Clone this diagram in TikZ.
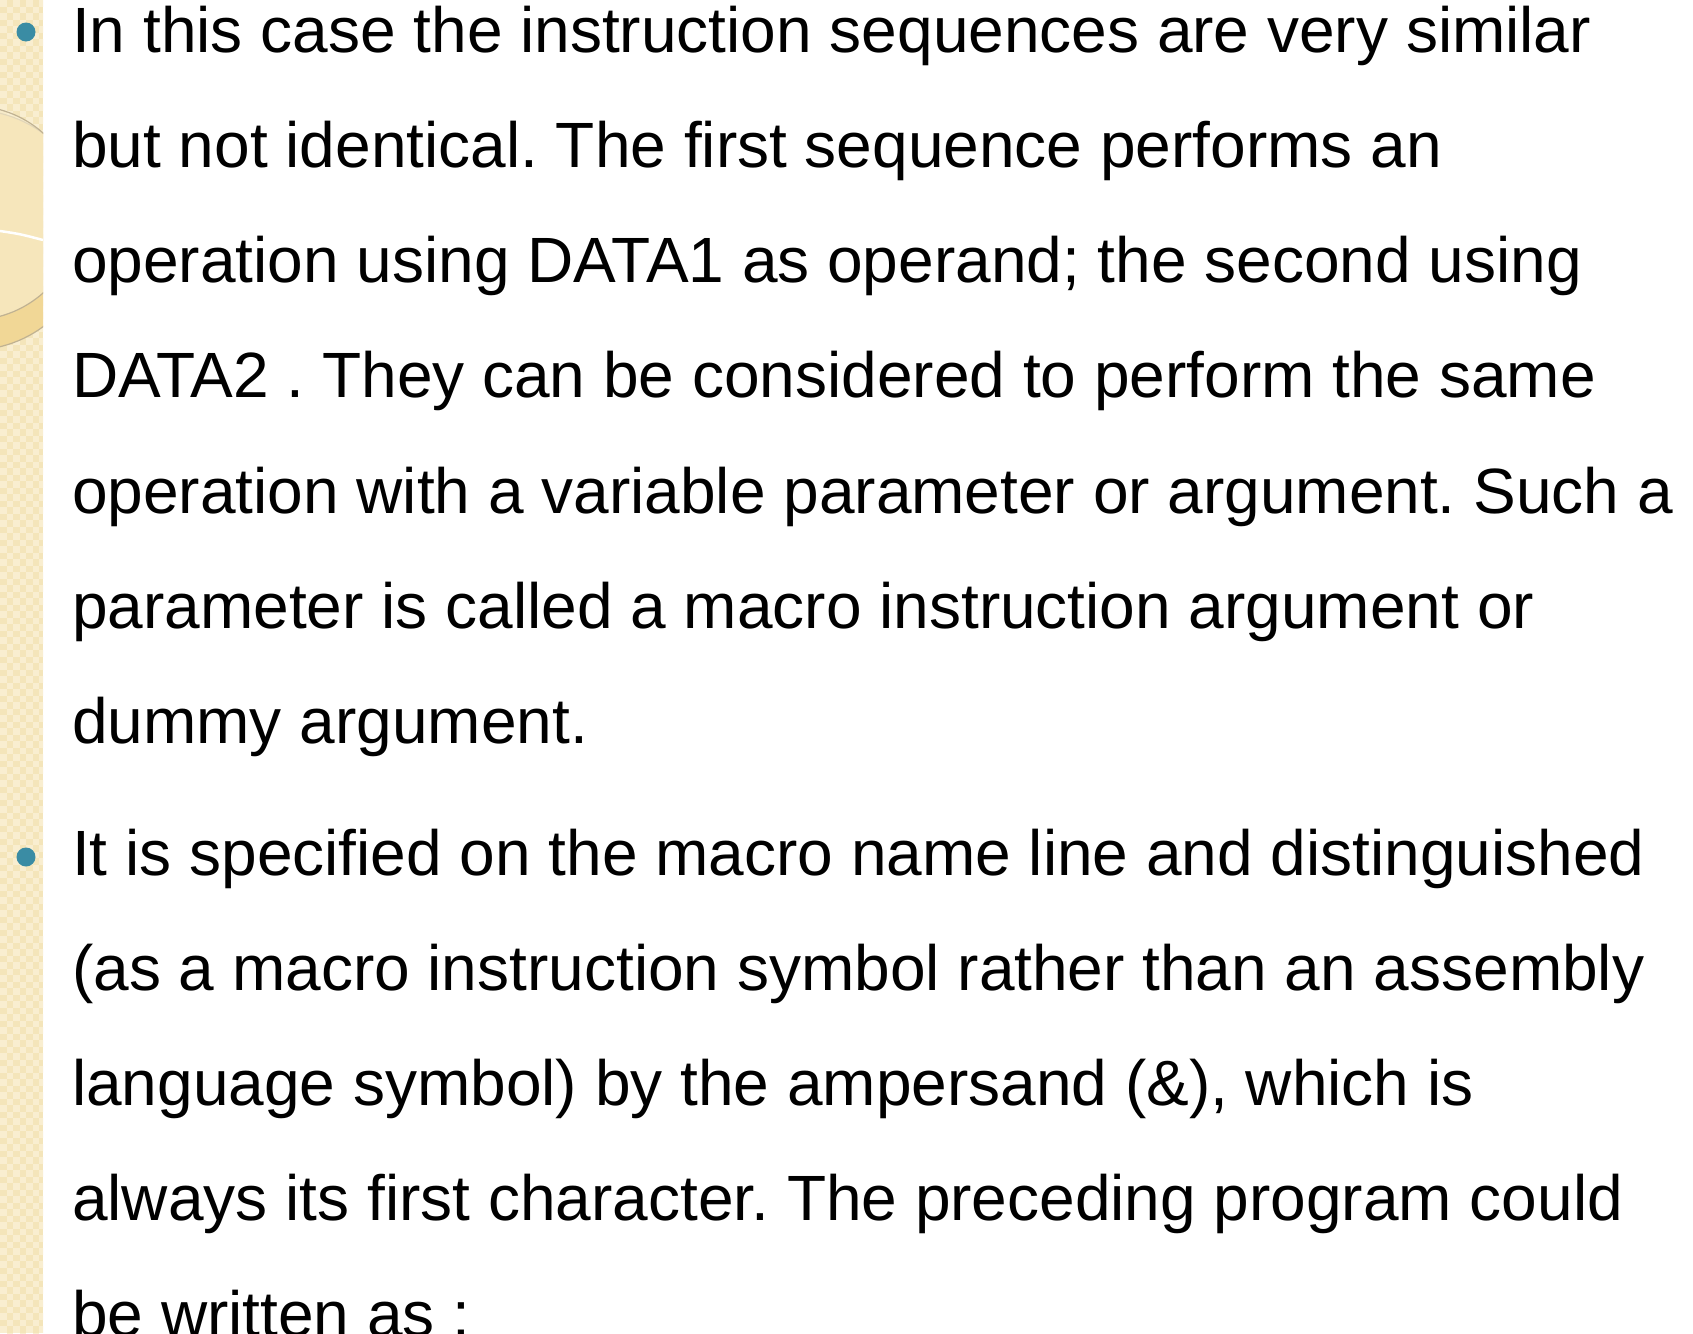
\documentclass[tikz,border=0pt]{standalone}
\usepackage{fontspec}
\setmainfont{Liberation Sans}
\definecolor{stripbg}{RGB}{244,229,186}
\definecolor{stripcell}{RGB}{249,238,208}
\definecolor{ringtan}{RGB}{241,215,150}
\definecolor{ringline}{RGB}{192,178,146}
\definecolor{ringcream}{RGB}{250,240,212}
\definecolor{bulletc}{RGB}{58,140,164}
\begin{document}
\frenchspacing
\begin{tikzpicture}[x=1pt,y=-1pt,line/.style={anchor=base west,inner sep=0pt,font=\fontsize{64}{64}\selectfont},dot/.style={circle,fill=bulletc,inner sep=0pt,minimum size=19pt},ringedge/.style={draw=ringline,line width=1.2pt}]
\def\xt{72}
\def\dy{115.3}
\def\ya{52}
\def\yb{875}

\useasboundingbox (0,0) rectangle (1693,1333);
\fill[white] (0,0) rectangle (1693,1333);

% left strip
\begin{scope}
\clip (0,0) rectangle (43,1333);
\fill[stripbg] (0,0) rectangle (43,1333);
\foreach \cx in {0,13,...,39}
  \foreach \cy in {0,13,...,1326}
  {
    \fill[stripcell] (\cx,\cy) rectangle ++(6.5,6.5);
    \fill[stripcell] (\cx+6.5,\cy+6.5) rectangle ++(6.5,6.5);
  }
\fill[ringtan,ringedge] (-28,230) circle (120);
\fill[ringcream,fill opacity=0.6,ringedge] (-28,213) circle (107);
\draw[white,line width=2.5pt] (0,231) .. controls (20,234) .. (43,240);
\end{scope}

\node[dot] (b1) at (26,32) {};
\node[dot] (b2) at (26,857) {};

\node[line] (l1) at (\xt,\ya) {In this case the instruction sequences are very similar};
\node[line] (l2) at (\xt,{\ya+\dy}) {but not identical. The first sequence performs an};
\node[line] (l3) at (\xt,{\ya+2*\dy}) {operation using DATA1 as operand; the second using};
\node[line] (l4) at (\xt,{\ya+3*\dy}) {DATA2 . They can be considered to perform the same};
\node[line] (l5) at (\xt,{\ya+4*\dy}) {operation with a variable parameter or argument. Such a};
\node[line] (l6) at (\xt,{\ya+5*\dy}) {parameter is called a macro instruction argument or};
\node[line] (l7) at (\xt,{\ya+6*\dy}) {dummy argument.};

\node[line] (m1) at (\xt,\yb) {It is specified on the macro name line and distinguished};
\node[line] (m2) at (\xt,{\yb+\dy}) {(as a macro instruction symbol rather than an assembly};
\node[line] (m3) at (\xt,{\yb+2*\dy}) {language symbol) by the ampersand (\&), which is};
\node[line] (m4) at (\xt,{\yb+3*\dy}) {always its first character. The preceding program could};
\node[line] (m5) at (\xt,{\yb+4*\dy}) {be written as :};
\end{tikzpicture}
\end{document}
